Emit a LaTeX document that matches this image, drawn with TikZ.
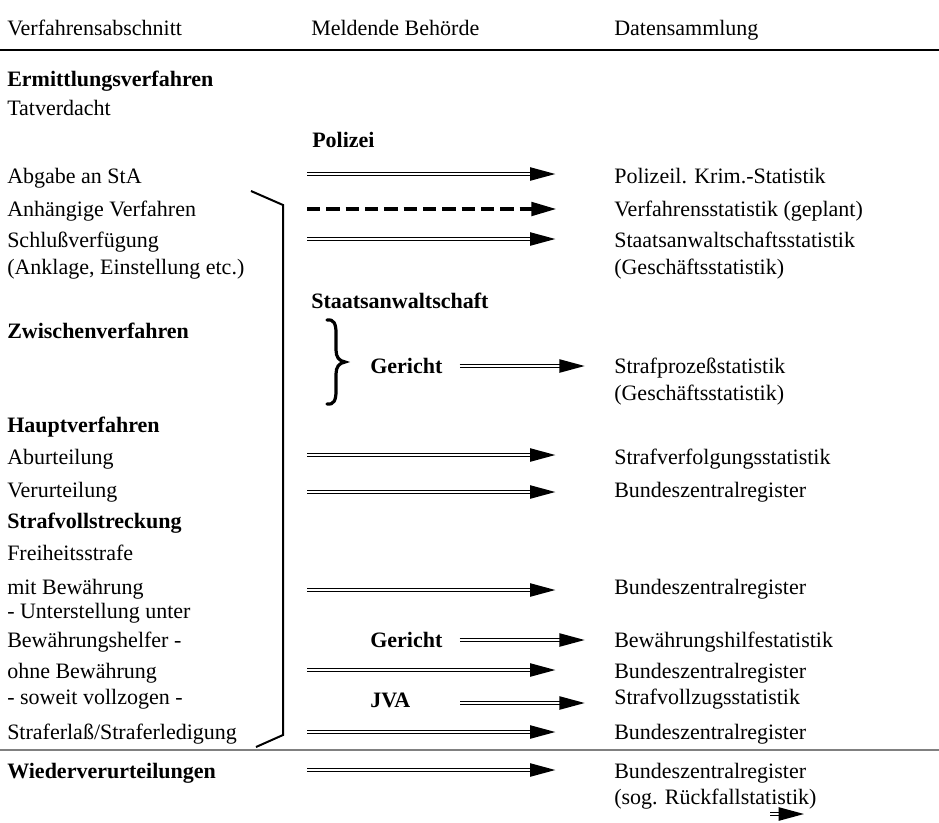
\documentclass[tikz,border=0pt]{standalone}
\usepackage{fontspec}
\setmainfont{Liberation Serif}
\usetikzlibrary{arrows.meta}

\begin{document}
\begin{tikzpicture}[x=0.75pt,y=0.75pt,yscale=-1,xscale=1,
  txt/.style={anchor=west,inner sep=0pt,text height=11pt,text depth=0pt,font=\fontsize{16.5}{19}\selectfont},
  hd/.style={txt,font=\fontsize{16.5}{19}\selectfont\bfseries},
  dblarrow/.style={double,line width=1pt,double distance=1.5pt,-{Triangle[length=19pt,width=10pt]}},
  dasharrow/.style={line width=3pt,dash pattern=on 10pt off 4.5pt,-{Triangle[length=19pt,width=10pt]}},
  longarrow/.style={dblarrow,shorten >=44pt}]
\useasboundingbox (0,0) rectangle (939,822);

% Text Node
\node[txt] (h1) at (7,28) {Verfahrensabschnitt};
\node[txt] (h2) at (311,28) {Meldende Behörde};
\node[txt] (h3) at (614,28) {Datensammlung};
%Straight Lines
\draw[line width=1.1pt] (0,50) -- (939,50);

% Text Node
\node[hd] (v1) at (7,79) {Ermittlungsverfahren};
\node[txt] (v2) at (7,108) {Tatverdacht};
\node[txt] (v3) at (7,176) {Abgabe an StA};
\node[txt] (v4) at (7,209) {Anhängige Verfahren};
\node[txt] (v5) at (7,240) {Schlußverfügung};
\node[txt] (v6) at (7,267) {(Anklage, Einstellung etc.)};
\node[hd] (v7) at (7,331) {Zwischenverfahren};
\node[hd] (v8) at (7,425) {Hauptverfahren};
\node[txt] (v9) at (7,457) {Aburteilung};
\node[txt] (v10) at (7,490) {Verurteilung};
\node[hd] (v11) at (7,521) {Strafvollstreckung};
\node[txt] (v12) at (7,553) {Freiheitsstrafe};
\node[txt] (v13) at (7,587) {mit Bewährung};
\node[txt] (v14) at (7,611) {- Unterstellung unter};
\node[txt] (v15) at (7,640) {Bewährungshelfer -};
\node[txt] (v16) at (7,671) {ohne Bewährung};
\node[txt] (v17) at (7,697) {- soweit vollzogen -};
\node[txt] (v18) at (7,732) {Straferlaß/Straferledigung};
\node[hd] (v19) at (7,771) {Wiederverurteilungen};

% Text Node
\node[hd] (m1) at (312,140) {Polizei};
\node[hd] (m2) at (311,301) {Staatsanwaltschaft};
\node[hd] (g1) at (370,366) {Gericht};
\node[hd] (g2) at (370,640) {Gericht};
\node[hd] (j1) at (370,700) {JVA};

% Text Node
\node[txt] (d1) at (614,176) {Polizeil. Krim.-Statistik};
\node[txt] (d2) at (614,209) {Verfahrensstatistik (geplant)};
\node[txt] (d3) at (614,240) {Staatsanwaltschaftsstatistik};
\node[txt] (d3b) at (614,267) {(Geschäftsstatistik)};
\node[txt] (d4) at (614,366) {Strafprozeßstatistik};
\node[txt] (d4b) at (614,393) {(Geschäftsstatistik)};
\node[txt] (d5) at (614,457) {Strafverfolgungsstatistik};
\node[txt] (d6) at (614,490) {Bundeszentralregister};
\node[txt] (d7) at (614,587) {Bundeszentralregister};
\node[txt] (d8) at (614,640) {Bewährungshilfestatistik};
\node[txt] (d9) at (614,671) {Bundeszentralregister};
\node[txt] (d10) at (614,697) {Strafvollzugsstatistik};
\node[txt] (d11) at (614,732) {Bundeszentralregister};
\node[txt] (d12) at (614,771) {Bundeszentralregister};
\node[txt] (d12b) at (614,797) {(sog. Rückfallstatistik)};

% Brace
\draw[line width=2.4pt,line cap=round] (327,320) .. controls (334,319) and (336,324) .. (336,333) -- (336,350) .. controls (336,357) and (339,361) .. (345,362) .. controls (339,363) and (336,367) .. (336,374) -- (336,391) .. controls (336,400) and (334,405) .. (327,404);

% Bracket
\draw[line width=1.5pt] (251,191) -- (283,205) -- (283,735) -- (256,747);

% Arrows
\coordinate (s1) at (307,174);
\coordinate (s2) at (307,209);
\coordinate (s3) at (307,239);
\coordinate (s5) at (307,455);
\coordinate (s6) at (307,492);
\coordinate (s7) at (307,590);
\coordinate (s9) at (307,670);
\coordinate (s11) at (307,732);
\coordinate (s12) at (307,770);
\coordinate (s10) at (460,703);
\draw[longarrow] (s1) -- (s1 -| d1.west);
\draw[dasharrow,shorten >=43pt] (s2) -- (s2 -| d2.west);
\draw[longarrow] (s3) -- (s3 -| d3.west);
\draw[dblarrow,shorten <=12.75pt,shorten >=22pt] (g1.east) -- (g1.east -| d4.west);
\draw[longarrow] (s5) -- (s5 -| d5.west);
\draw[longarrow] (s6) -- (s6 -| d6.west);
\draw[longarrow] (s7) -- (s7 -| d7.west);
\draw[dblarrow,shorten <=12.75pt,shorten >=22pt] (g2.east) -- (g2.east -| d8.west);
\draw[longarrow] (s9) -- (s9 -| d9.west);
\draw[dblarrow,shorten >=22pt] (s10) -- (s10 -| d10.west);
\draw[longarrow] (s11) -- (s11 -| d11.west);
\draw[longarrow] (s12) -- (s12 -| d12.west);

%Straight Lines
\draw[line width=1.1pt,gray] (0,750) -- (939,750);

% small arrow
\coordinate (t1) at (770,814);
\coordinate (t2) at (804,814);
\draw[dblarrow] (t1) -- (t2);

\end{tikzpicture}
\end{document}
